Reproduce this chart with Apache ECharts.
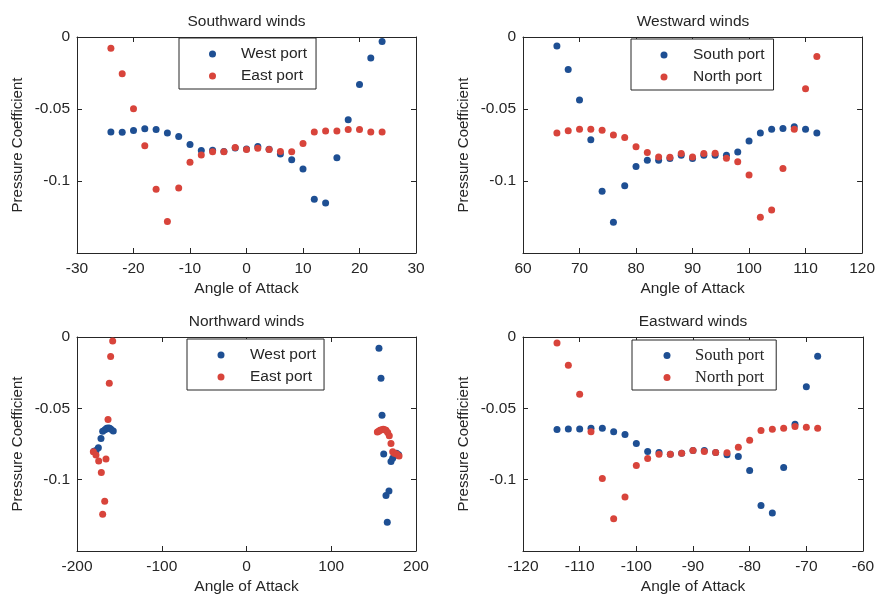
<!DOCTYPE html>
<html>
<head>
<meta charset="utf-8">
<script src="https://cdn.jsdelivr.net/npm/echarts@6/dist/echarts.min.js"></script>
<style>
  html, body { margin: 0; padding: 0; background: #ffffff; }
  #chart { width: 878px; height: 596px; }
</style>
</head>
<body>
<div id="chart"></div>
<script>
// Southward winds: angle of attack (deg) and pressure coefficients
const southwardAngle = [-24, -22, -20, -18, -16, -14, -12, -10, -8, -6, -4, -2, 0, 2, 4, 6, 8, 10, 12, 14, 16, 18, 20, 22, 24];
const southwardWest = [-0.0659, -0.0661, -0.0650, -0.0638, -0.0643, -0.0666, -0.0691, -0.0747, -0.0788, -0.0786, -0.0795, -0.0770, -0.0778, -0.0760, -0.0780, -0.0813, -0.0853, -0.0917, -0.1127, -0.1152, -0.0839, -0.0574, -0.0329, -0.0145, -0.0032];
const southwardEast = [-0.0078, -0.0256, -0.0498, -0.0756, -0.1058, -0.1281, -0.1048, -0.0869, -0.0820, -0.0797, -0.0797, -0.0767, -0.0781, -0.0772, -0.0781, -0.0795, -0.0797, -0.0740, -0.0659, -0.0652, -0.0652, -0.0643, -0.0643, -0.0659, -0.0659];

// Westward winds
const westwardAngle = [66, 68, 70, 72, 74, 76, 78, 80, 82, 84, 86, 88, 90, 92, 94, 96, 98, 100, 102, 104, 106, 108, 110, 112];
const westwardSouth = [-0.0063, -0.0226, -0.0437, -0.0714, -0.1072, -0.1286, -0.1033, -0.0900, -0.0856, -0.0856, -0.0844, -0.0821, -0.0844, -0.0821, -0.0821, -0.0821, -0.0798, -0.0723, -0.0667, -0.0640, -0.0635, -0.0623, -0.0640, -0.0667];
const westwardNorth = [-0.0667, -0.0651, -0.0640, -0.0640, -0.0647, -0.0681, -0.0698, -0.0763, -0.0802, -0.0833, -0.0835, -0.0809, -0.0833, -0.0809, -0.0807, -0.0842, -0.0867, -0.0958, -0.1251, -0.1202, -0.0914, -0.0640, -0.0360, -0.0135];

// Northward winds (angles wrap around +/-180)
const northwardWestAngle = [-180, -177.5, -174.8, -171.7, -169.7, -167, -165, -163, -161.5, -159.9, -157.2, 156.3, 158.7, 159.9, 161.9, 164.6, 166.1, 168.1, 170.5, 172.5, 174.5, 177, 179.5];
const northwardWest = [-0.0800, -0.0795, -0.0776, -0.0712, -0.0661, -0.0650, -0.0640, -0.0638, -0.0640, -0.0647, -0.0659, -0.0078, -0.0290, -0.0548, -0.0820, -0.1111, -0.1299, -0.1080, -0.0873, -0.0850, -0.0830, -0.0815, -0.0825];
const northwardEastAngle = [-180.7, -177.6, -174.4, -171.3, -169.7, -167.3, -165.8, -163.4, -161.9, -160.3, -157.9, 154.4, 156, 157.5, 159.5, 161.4, 163, 164.6, 166.6, 168.5, 170.5, 172.5, 174.4, 177.2, 180];
const northwardEast = [-0.0804, -0.0827, -0.0869, -0.0949, -0.1242, -0.1152, -0.0855, -0.0578, -0.0325, -0.0136, -0.0028, -0.0666, -0.0660, -0.0654, -0.0650, -0.0647, -0.0650, -0.0654, -0.0670, -0.0693, -0.0746, -0.0804, -0.0815, -0.0820, -0.0834];

// Eastward winds
const eastwardAngle = [-114, -112, -110, -108, -106, -104, -102, -100, -98, -96, -94, -92, -90, -88, -86, -84, -82, -80, -78, -76, -74, -72, -70, -68];
const eastwardSouth = [-0.0649, -0.0644, -0.0644, -0.0640, -0.0640, -0.0665, -0.0684, -0.0747, -0.0802, -0.0809, -0.0821, -0.0814, -0.0795, -0.0795, -0.0809, -0.0826, -0.0837, -0.0935, -0.1181, -0.1233, -0.0914, -0.0612, -0.0349, -0.0135];
const eastwardNorth = [-0.0042, -0.0198, -0.0402, -0.0665, -0.0991, -0.1274, -0.1121, -0.0900, -0.0851, -0.0821, -0.0821, -0.0814, -0.0795, -0.0802, -0.0809, -0.0812, -0.0772, -0.0723, -0.0656, -0.0647, -0.0640, -0.0628, -0.0633, -0.0640];

// Axis ranges and labels
const pressureRange = [-0.15, 0, 0.05];
const angleRanges = [[-30, 30, 10], [60, 120, 10], [-200, 200, 100], [-120, -60, 10]];
const panelTitles = ['Southward winds', 'Westward winds', 'Northward winds', 'Eastward winds'];
const xAxisName = 'Angle of Attack';
const yAxisName = 'Pressure Coefficient';

const BLUE = '#1e4f93';
const RED = '#d8443b';
const INK = '#262626';
const SANS = '"Liberation Sans", Arial, Helvetica, sans-serif';
const SERIF = '"Liberation Serif", "Times New Roman", serif';

const panels = [
  {
    grid: { left: 77, top: 37, width: 339, height: 216 },
    series: [
      { name: 'West port', color: BLUE, x: southwardAngle, y: southwardWest },
      { name: 'East port', color: RED, x: southwardAngle, y: southwardEast }
    ],
    legend: { left: 179, top: 38, padding: [8, 9, 5, 30], gap: 20, rowGap: 6, font: SANS, size: 15.5 }
  },
  {
    grid: { left: 523, top: 37, width: 340, height: 216 },
    series: [
      { name: 'South port', color: BLUE, x: westwardAngle, y: westwardSouth },
      { name: 'North port', color: RED, x: westwardAngle, y: westwardNorth }
    ],
    legend: { left: 631, top: 39, padding: [8, 9, 5, 29.5], gap: 20.5, rowGap: 6, font: SANS, size: 15.5 }
  },
  {
    grid: { left: 77, top: 337, width: 339, height: 216 },
    series: [
      { name: 'West port', color: BLUE, x: northwardWestAngle, y: northwardWest },
      { name: 'East port', color: RED, x: northwardEastAngle, y: northwardEast }
    ],
    legend: { left: 187, top: 339, padding: [8, 8, 5, 30.5], gap: 20.5, rowGap: 6, font: SANS, size: 15.5 }
  },
  {
    grid: { left: 523, top: 337, width: 340, height: 216 },
    series: [
      { name: 'South port', color: BLUE, x: eastwardAngle, y: eastwardSouth },
      { name: 'North port', color: RED, x: eastwardAngle, y: eastwardNorth }
    ],
    legend: { left: 632, top: 340, padding: [7, 12, 4, 31.5], gap: 19.5, rowGap: 5, font: SERIF, size: 16.5 }
  }
];

const option = {
  animation: false,
  backgroundColor: '#ffffff',
  title: [],
  legend: [],
  grid: [],
  xAxis: [],
  yAxis: [],
  series: []
};

const tickStyle = { inside: true, length: 5, lineStyle: { color: INK, width: 1 } };
const lineStyle = { onZero: false, lineStyle: { color: INK, width: 1 } };

panels.forEach((p, i) => {
  const [xmin, xmax, xstep] = angleRanges[i];
  const [ymin, ymax, ystep] = pressureRange;

  option.grid.push(Object.assign({ containLabel: false, show: false }, p.grid));

  option.title.push({
    text: panelTitles[i],
    left: p.grid.left + p.grid.width / 2,
    top: p.grid.top - 23,
    textAlign: 'center',
    padding: 0,
    textStyle: { fontFamily: SANS, fontSize: 15.5, fontWeight: 'normal', color: INK }
  });

  // bottom and top angle axes
  option.xAxis.push({
    gridIndex: i, type: 'value', position: 'bottom',
    min: xmin, max: xmax, interval: xstep,
    axisLine: lineStyle, axisTick: tickStyle,
    axisLabel: { color: INK, fontFamily: SANS, fontSize: 15.5, margin: 8 },
    splitLine: { show: false },
    name: xAxisName, nameLocation: 'middle', nameGap: 28,
    nameTextStyle: { color: INK, fontFamily: SANS, fontSize: 15.5 }
  });
  option.xAxis.push({
    gridIndex: i, type: 'value', position: 'top',
    min: xmin, max: xmax, interval: xstep,
    axisLine: lineStyle, axisTick: tickStyle,
    axisLabel: { show: false }, splitLine: { show: false }
  });

  // left and right pressure axes
  option.yAxis.push({
    gridIndex: i, type: 'value', position: 'left',
    min: ymin, max: ymax, interval: ystep,
    axisLine: lineStyle, axisTick: tickStyle,
    axisLabel: { color: INK, fontFamily: SANS, fontSize: 15.5, margin: 7, showMinLabel: false },
    splitLine: { show: false },
    name: yAxisName, nameLocation: 'middle', nameGap: 52,
    nameTextStyle: { color: INK, fontFamily: SANS, fontSize: 15 }
  });
  option.yAxis.push({
    gridIndex: i, type: 'value', position: 'right',
    min: ymin, max: ymax, interval: ystep,
    axisLine: lineStyle, axisTick: tickStyle,
    axisLabel: { show: false }, splitLine: { show: false }
  });

  p.series.forEach(s => {
    option.series.push({
      name: s.name,
      type: 'scatter',
      xAxisIndex: 2 * i,
      yAxisIndex: 2 * i,
      symbol: 'circle',
      symbolSize: 7,
      itemStyle: { color: s.color, opacity: 1 },
      data: s.x.map((a, k) => [a, s.y[k]])
    });
  });

  option.legend.push({
    orient: 'vertical',
    left: p.legend.left,
    top: p.legend.top,
    data: p.series.map(s => s.name),
    icon: 'circle',
    itemWidth: 7,
    itemHeight: 7,
    itemGap: p.legend.rowGap,
    padding: p.legend.padding,
    borderColor: INK,
    borderWidth: 1,
    borderRadius: 0,
    backgroundColor: '#ffffff',
    selectedMode: false,
    formatter: '{t|{name}}',
    textStyle: {
      color: INK,
      rich: {
        t: {
          fontFamily: p.legend.font, fontSize: p.legend.size, color: INK,
          lineHeight: 16, padding: [0, 0, 0, p.legend.gap]
        }
      }
    }
  });
});

const chart = echarts.init(document.getElementById('chart'), null, { renderer: 'canvas' });
chart.setOption(option);
</script>
</body>
</html>
